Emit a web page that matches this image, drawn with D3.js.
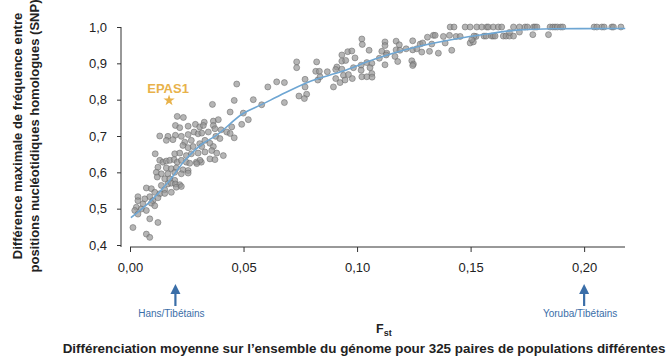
<!DOCTYPE html>
<html><head><meta charset="utf-8">
<script src="https://cdn.jsdelivr.net/npm/d3@7"></script>
<style>
html,body{margin:0;padding:0;background:#fff;}
svg{display:block;font-family:"Liberation Sans",Arial,sans-serif;}
</style></head>
<body><svg id="chart" width="669" height="360"></svg>
<script>
// ---- data ----
const xTicks = [0, 0.05, 0.10, 0.15, 0.20];
const yTicks = [0.4, 0.5, 0.6, 0.7, 0.8, 0.9, 1.0];
// [Fst, max SNP frequency difference]
const snpPoints = [
[0.0208,0.754],[0.0235,0.751],[0.0200,0.729],[0.0219,0.723],[0.0256,0.727],[0.0288,0.732],[0.0307,0.725],
[0.0131,0.700],[0.0167,0.699],[0.0200,0.702],[0.0226,0.699],[0.0256,0.704],[0.0282,0.711],[0.0300,0.706],
[0.0160,0.688],[0.0189,0.690],[0.0241,0.683],[0.0270,0.688],[0.0233,0.674],[0.0256,0.668],[0.0278,0.671],
[0.0307,0.679],[0.0111,0.651],[0.0197,0.651],[0.0219,0.653],[0.0248,0.646],[0.0270,0.651],[0.0300,0.653],
[0.0131,0.633],[0.0145,0.628],[0.0160,0.631],[0.0175,0.633],[0.0194,0.635],[0.0208,0.628],[0.0226,0.633],
[0.0248,0.628],[0.0263,0.625],[0.0292,0.628],[0.0314,0.628],[0.0123,0.614],[0.0160,0.612],[0.0182,0.610],
[0.0204,0.612],[0.0233,0.607],[0.0256,0.605],[0.0116,0.600],[0.0138,0.596],[0.0167,0.596],[0.0197,0.600],
[0.0226,0.596],[0.0256,0.598],[0.0120,0.587],[0.0153,0.582],[0.0175,0.582],[0.0197,0.578],[0.0167,0.568],
[0.0182,0.570],[0.0200,0.568],[0.0219,0.566],[0.0138,0.564],[0.0072,0.557],[0.0094,0.555],[0.0153,0.552],
[0.0204,0.559],[0.0226,0.561],[0.0109,0.545],[0.0131,0.541],[0.0153,0.542],[0.0182,0.545],[0.0087,0.533],
[0.0123,0.530],[0.0101,0.522],[0.0035,0.533],[0.0065,0.527],[0.0094,0.515],[0.0057,0.513],[0.0035,0.522],
[0.0028,0.504],[0.0050,0.499],[0.0072,0.495],[0.0021,0.495],[0.0109,0.508],[0.0035,0.485],[0.0087,0.472],
[0.0123,0.462],[0.0013,0.448],[0.0072,0.430],[0.0087,0.421],
[0.0470,0.843],[0.0607,0.835],[0.0646,0.849],[0.0363,0.787],[0.0459,0.798],[0.0543,0.800],[0.0441,0.766],
[0.0499,0.763],[0.0521,0.745],[0.0492,0.732],[0.0367,0.741],[0.0389,0.745],[0.0327,0.738],[0.0323,0.729],
[0.0367,0.729],[0.0374,0.720],[0.0401,0.717],[0.0426,0.711],[0.0448,0.725],[0.0441,0.707],[0.0345,0.711],
[0.0316,0.708],[0.0378,0.699],[0.0396,0.693],[0.0459,0.695],[0.0330,0.688],[0.0352,0.680],[0.0316,0.671],
[0.0367,0.671],[0.0360,0.660],[0.0382,0.653],[0.0411,0.646],[0.0330,0.656],[0.0352,0.637],[0.0374,0.635],
[0.0308,0.633],[0.0294,0.624],[0.0580,0.786],
[0.1021,0.967],[0.1023,0.952],[0.1053,0.936],[0.0959,0.932],[0.0977,0.934],[0.0933,0.923],[0.0991,0.915],
[0.0734,0.904],[0.0822,0.904],[0.0933,0.906],[0.0950,0.908],[0.0734,0.888],[0.0911,0.890],[0.1018,0.895],
[0.1043,0.902],[0.1065,0.900],[0.0818,0.878],[0.0834,0.878],[0.0869,0.877],[0.0906,0.883],[0.0933,0.884],
[0.0984,0.888],[0.1018,0.881],[0.1057,0.888],[0.0680,0.847],[0.0771,0.856],[0.0827,0.854],[0.0837,0.863],
[0.0906,0.858],[0.0940,0.867],[0.0962,0.869],[0.0979,0.858],[0.1021,0.863],[0.1043,0.863],[0.1065,0.872],
[0.0925,0.847],[0.0947,0.854],[0.0771,0.835],[0.0896,0.835],[0.0744,0.810],[0.0778,0.815],[0.0768,0.803],
[0.0680,0.792],
[0.1410,1.000],[0.1427,1.000],[0.1476,1.000],[0.1498,1.000],[0.1527,1.000],[0.1336,0.977],[0.1344,0.977],
[0.1380,0.974],[0.1407,0.977],[0.1436,0.974],[0.1454,0.974],[0.1524,0.974],[0.1310,0.972],[0.1245,0.962],
[0.1123,0.959],[0.1172,0.961],[0.1186,0.951],[0.1278,0.953],[0.1289,0.956],[0.1329,0.953],[0.1388,0.956],
[0.1498,0.956],[0.1512,0.959],[0.1123,0.949],[0.1216,0.940],[0.1245,0.937],[0.1263,0.940],[0.1172,0.937],
[0.1109,0.933],[0.1131,0.928],[0.1285,0.931],[0.1319,0.933],[0.1358,0.928],[0.1417,0.936],[0.1167,0.919],
[0.1098,0.914],[0.1241,0.907],[0.1179,0.905],[0.1248,0.898],[0.1245,0.894],[0.1066,0.862],[0.1123,0.896],
[0.1189,0.936],[0.1128,0.923],
[0.1549,1.000],[0.1571,1.000],[0.1578,1.000],[0.1600,1.000],[0.1622,1.000],[0.1637,1.000],[0.1689,1.000],
[0.1715,1.000],[0.1740,1.000],[0.1750,1.000],[0.1777,1.000],[0.1784,1.000],[0.1792,1.000],[0.1850,1.000],
[0.1862,1.000],[0.1872,1.000],[0.1882,1.000],[0.1897,1.000],[0.1906,1.000],[0.2044,1.000],[0.2056,1.000],
[0.2078,1.000],[0.2088,1.000],[0.2122,1.000],[0.2129,1.000],[0.2162,1.000],
[0.1515,0.975],[0.1559,0.975],[0.1568,0.975],[0.1593,0.975],[0.1600,0.975],[0.1608,0.975],[0.1644,0.975],
[0.1656,0.975],[0.1671,0.975],[0.1689,0.975],[0.1715,0.986],[0.1505,0.965],[0.1774,0.979],[0.1843,0.979],
[0.1671,0.985]
];
// smoothed trend (blue curve)
const trendFst = [0.0004,0.0093,0.0167,0.0242,0.0322,0.0374,0.0498,0.0581,0.0661,0.0784,0.0934,0.1079,0.1220,0.1379,0.1542,0.1718,0.1863,0.2181];
const trendDiff = [0.475,0.522,0.572,0.633,0.680,0.699,0.762,0.787,0.812,0.848,0.878,0.912,0.939,0.961,0.978,0.992,0.995,0.996];
const epas1 = {label:"EPAS1", fst:0.0172, diff:0.798};
const pairs = [{label:"Hans/Tibétains", fst:0.02},{label:"Yoruba/Tibétains", fst:0.20}];
const yTitle = ["Différence maximale de fréquence entre","positions nucléotidiques homologues (SNP)"];
const xTitle = "Différenciation moyenne sur l\u2019ensemble du génome pour 325 paires de populations différentes";

// ---- drawing ----
const svg = d3.select("#chart");
const x = d3.scaleLinear().domain([0, 0.218]).range([130, 625]);
const y = d3.scaleLinear().domain([0.4, 1.0]).range([245, 27]);
const axisColor = "#333";
const fmtX = v => d3.format(".2f")(v).replace(".", ",");
const fmtY = v => d3.format(".1f")(v).replace(".", ",");

// y axis
const gy = svg.append("g").attr("transform","translate(121,0)")
  .call(d3.axisLeft(y).tickValues(yTicks).tickFormat(fmtY).tickSize(4).tickPadding(10).tickSizeOuter(0));
gy.select(".domain").remove();
gy.append("line").attr("x1",0).attr("x2",0).attr("y1",y(1.0)).attr("y2",247).attr("stroke",axisColor);
gy.selectAll(".tick line").attr("stroke",axisColor);
gy.selectAll(".tick text").attr("fill","#222").style("font-size","13px").style("font-family","Liberation Sans, Arial, sans-serif");

// x axis
const gx = svg.append("g").attr("transform","translate(0,247)")
  .call(d3.axisBottom(x).tickValues(xTicks).tickFormat(fmtX).tickSize(5).tickPadding(11).tickSizeOuter(0));
gx.select(".domain").remove();
gx.append("line").attr("x1",x(0)).attr("x2",625).attr("y1",0).attr("y2",0).attr("stroke",axisColor);
gx.selectAll(".tick line").attr("stroke",axisColor);
gx.selectAll(".tick text").attr("fill","#222").style("font-size","13px").style("font-family","Liberation Sans, Arial, sans-serif");

// points
svg.append("g").selectAll("circle").data(snpPoints).join("circle")
  .attr("cx", d => x(d[0])).attr("cy", d => y(d[1])).attr("r", 3)
  .attr("fill", "#959595").attr("fill-opacity", 0.7)
  .attr("stroke", "#666").attr("stroke-width", 0.7).attr("stroke-opacity", 0.75);

// trend line
const trend = trendFst.map((f,i) => [f, trendDiff[i]]);
svg.append("path").datum(trend)
  .attr("d", d3.line().x(d => x(d[0])).y(d => y(d[1])).curve(d3.curveMonotoneX))
  .attr("fill","none").attr("stroke","#6ea6d3").attr("stroke-width",1.6);

// EPAS1
svg.append("path").attr("d", d3.symbol().type(d3.symbolStar).size(40)())
  .attr("transform", `translate(${x(epas1.fst)},${y(epas1.diff)})`).attr("fill","#e8b24a");
svg.append("text").attr("x", x(epas1.fst)-1).attr("y", y(epas1.diff)-7).attr("text-anchor","middle")
  .attr("fill","#e8b24a").style("font-weight","bold").style("font-size","13px").text(epas1.label);

// pair arrows
const blue = "#3a6ea8";
pairs.forEach(p => {
  const cx = x(p.fst);
  svg.append("line").attr("x1",cx).attr("x2",cx).attr("y1",292).attr("y2",306)
    .attr("stroke",blue).attr("stroke-width",2.2);
  svg.append("path").attr("d",`M${cx-5},${294} L${cx},${284} L${cx+5},${294} Z`).attr("fill",blue);
  svg.append("text").attr("x",cx-4).attr("y",317).attr("text-anchor","middle")
    .attr("fill",blue).style("font-size","10px").text(p.label);
});

// y title
const yt = svg.append("text").attr("transform","translate(0,136) rotate(-90)")
  .attr("text-anchor","middle").attr("fill","#222").style("font-weight","bold").style("font-size","13px");
yt.append("tspan").attr("x",0).attr("y",22).text(yTitle[0]);
yt.append("tspan").attr("x",0).attr("y",39).text(yTitle[1]);

// x titles
const ft = svg.append("text").attr("x",376).attr("y",333).attr("fill","#222").style("font-weight","bold").style("font-size","12.5px");
ft.append("tspan").text("F");
ft.append("tspan").attr("dy",3).style("font-size","9px").text("st");
svg.append("text").attr("x",364).attr("y",353).attr("text-anchor","middle").attr("fill","#222")
  .style("font-weight","bold").style("font-size","13.4px").text(xTitle);
</script></body></html>
